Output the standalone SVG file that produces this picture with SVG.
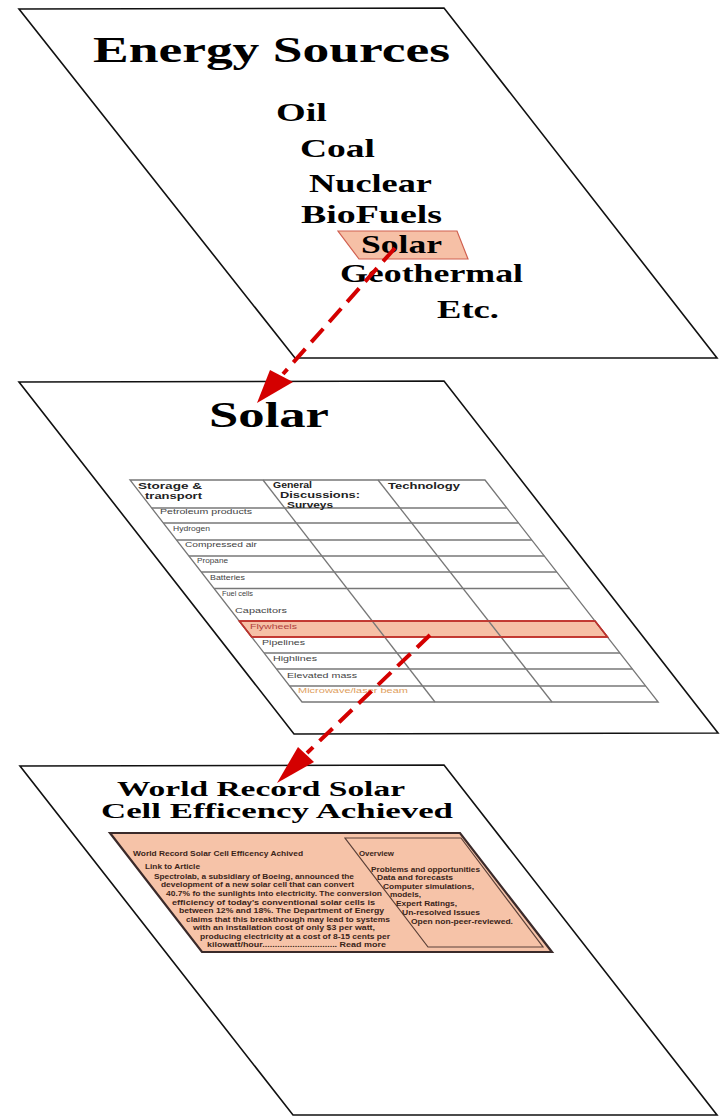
<svg xmlns="http://www.w3.org/2000/svg" width="721" height="1117" viewBox="0 0 721 1117">
<style>
.panel{fill:#fff;stroke:#111;stroke-width:1.6}
.ser{font-family:"Liberation Serif","Times New Roman",serif;fill:#000}
.item{font-size:25px;font-weight:bold}
.tbl{fill:none;stroke:#777;stroke-width:1.3}
.hdr{font-family:"Liberation Sans",Arial,sans-serif;font-size:8.8px;font-weight:bold;fill:#222}
.row{font-family:"Liberation Sans",Arial,sans-serif;font-size:7.5px;fill:#444}
.box{font-family:"Liberation Sans",Arial,sans-serif;font-size:7.5px;font-weight:bold;fill:#3a2418}
.dash{fill:none;stroke:#d40000;stroke-width:4;stroke-dasharray:18 9}
.head{fill:#d40000}
</style>
<g id="panel-energy">
<polygon class="panel" points="19,9 444,8 717,358 295,358"/>
<text class="ser" x="93" y="62" font-size="36" font-weight="bold" textLength="357" lengthAdjust="spacingAndGlyphs">Energy Sources</text>
<text class="ser item" x="276" y="121" textLength="51" lengthAdjust="spacingAndGlyphs">Oil</text>
<text class="ser item" x="300" y="157" textLength="75" lengthAdjust="spacingAndGlyphs">Coal</text>
<text class="ser item" x="309" y="192" textLength="123" lengthAdjust="spacingAndGlyphs">Nuclear</text>
<text class="ser item" x="301" y="223" textLength="141" lengthAdjust="spacingAndGlyphs">BioFuels</text>
<polygon points="338,231 457,231 468,259 359,259" fill="#f6c0a6" stroke="#d06050" stroke-width="1.2"/>
<text class="ser item" x="361" y="253" textLength="81" lengthAdjust="spacingAndGlyphs">Solar</text>
<text class="ser item" x="340" y="282" textLength="183" lengthAdjust="spacingAndGlyphs">Geothermal</text>
<text class="ser item" x="437" y="318" textLength="62" lengthAdjust="spacingAndGlyphs">Etc.</text>
</g>
<g id="panel-solar">
<polygon class="panel" points="19,382 444,381 718,733 294,734"/>
<text class="ser" x="209" y="427" font-size="35" font-weight="bold" textLength="120" lengthAdjust="spacingAndGlyphs">Solar</text>
<polygon points="239.3,621 595,621 607.5,637 251.7,637" fill="#f6c0a6" stroke="#c0302a" stroke-width="1.5"/>
<g class="tbl">
<polygon points="130,480 485,480 658.2,702 302,702"/>
<line x1="263" y1="480" x2="435" y2="702"/>
<line x1="378" y1="480" x2="552" y2="702"/>
<line x1="151.7" y1="508" x2="506.8" y2="508"/>
<line x1="163.3" y1="523" x2="518.5" y2="523"/>
<line x1="176.5" y1="540" x2="531.8" y2="540"/>
<line x1="188.9" y1="556" x2="544.3" y2="556"/>
<line x1="201.3" y1="572" x2="556.8" y2="572"/>
<line x1="214.1" y1="588.5" x2="569.6" y2="588.5"/>
<line x1="264.1" y1="653" x2="620" y2="653"/>
<line x1="276.5" y1="669" x2="632.4" y2="669"/>
<line x1="289.7" y1="686" x2="645.7" y2="686"/>
</g>
<polygon points="239.3,621 595,621 607.5,637 251.7,637" fill="none" stroke="#c0302a" stroke-width="1.5"/>
<text class="hdr" x="138" y="489" textLength="64" lengthAdjust="spacingAndGlyphs">Storage &amp;</text>
<text class="hdr" x="145" y="499" textLength="57" lengthAdjust="spacingAndGlyphs">transport</text>
<text class="hdr" x="273" y="487.5" textLength="39" lengthAdjust="spacingAndGlyphs">General</text>
<text class="hdr" x="280" y="497.5" textLength="80" lengthAdjust="spacingAndGlyphs">Discussions:</text>
<text class="hdr" x="287" y="507.5" textLength="46" lengthAdjust="spacingAndGlyphs">Surveys</text>
<text class="hdr" x="388" y="489" textLength="72" lengthAdjust="spacingAndGlyphs">Technology</text>
<text class="row" x="160" y="514" textLength="92" lengthAdjust="spacingAndGlyphs">Petroleum products</text>
<text class="row" x="173" y="531" textLength="37" lengthAdjust="spacingAndGlyphs">Hydrogen</text>
<text class="row" x="185" y="547" textLength="72" lengthAdjust="spacingAndGlyphs">Compressed air</text>
<text class="row" x="197" y="563" textLength="31" lengthAdjust="spacingAndGlyphs">Propane</text>
<text class="row" x="210" y="580" textLength="35" lengthAdjust="spacingAndGlyphs">Batteries</text>
<text class="row" x="222" y="596" textLength="31" lengthAdjust="spacingAndGlyphs">Fuel cells</text>
<text class="row" x="235" y="613" textLength="52" lengthAdjust="spacingAndGlyphs">Capacitors</text>
<text class="row" x="250" y="629" textLength="47" lengthAdjust="spacingAndGlyphs" style="fill:#b04040">Flywheels</text>
<text class="row" x="262" y="645" textLength="43" lengthAdjust="spacingAndGlyphs">Pipelines</text>
<text class="row" x="273" y="661" textLength="44" lengthAdjust="spacingAndGlyphs">Highlines</text>
<text class="row" x="287" y="678" textLength="70" lengthAdjust="spacingAndGlyphs">Elevated mass</text>
<text class="row" x="298" y="693" textLength="110" lengthAdjust="spacingAndGlyphs" style="fill:#e0a060">Microwave/laser beam</text>
</g>
<g id="panel-article">
<polygon class="panel" points="20,766 444,765 717,1115 293,1115"/>
<text class="ser" x="117" y="796" font-size="20" font-weight="bold" textLength="288" lengthAdjust="spacingAndGlyphs">World Record Solar</text>
<text class="ser" x="101" y="818" font-size="20" font-weight="bold" textLength="352" lengthAdjust="spacingAndGlyphs">Cell Efficency Achieved</text>
<polygon points="110,833 460,833 552,952 202,952" fill="#f6c3a8" stroke="#3a2a2a" stroke-width="2.2"/>
<polygon points="345,838 461,838 543,947 428,947" fill="none" stroke="#5a4038" stroke-width="1.2"/>
<text class="box" x="133" y="856" textLength="170" lengthAdjust="spacingAndGlyphs">World Record Solar Cell Efficency Achived</text>
<text class="box" x="145" y="869" textLength="55" lengthAdjust="spacingAndGlyphs">Link to Article</text>
<text class="box" x="154" y="879" textLength="200" lengthAdjust="spacingAndGlyphs">Spectrolab, a subsidiary of Boeing, announced the</text>
<text class="box" x="161" y="887" textLength="193" lengthAdjust="spacingAndGlyphs">development of a new solar cell that can convert</text>
<text class="box" x="166" y="896" textLength="216" lengthAdjust="spacingAndGlyphs">40.7% fo the sunlights into electricity. The conversion</text>
<text class="box" x="172" y="905" textLength="203" lengthAdjust="spacingAndGlyphs">efficiency of today's conventional solar cells is</text>
<text class="box" x="179" y="913" textLength="205" lengthAdjust="spacingAndGlyphs">between 12% and 18%. The Department of Energy</text>
<text class="box" x="186" y="922" textLength="204" lengthAdjust="spacingAndGlyphs">claims that this breakthrough may lead to systems</text>
<text class="box" x="193" y="930" textLength="182" lengthAdjust="spacingAndGlyphs">with an installation cost of only $3 per watt,</text>
<text class="box" x="200" y="939" textLength="190" lengthAdjust="spacingAndGlyphs">producing electricity at a cost of 8-15 cents per</text>
<text class="box" x="207" y="947" textLength="179" lengthAdjust="spacingAndGlyphs">kilowatt/hour.............................. Read more</text>
<text class="box" x="359" y="856" textLength="35" lengthAdjust="spacingAndGlyphs">Overview</text>
<text class="box" x="371" y="872" textLength="109" lengthAdjust="spacingAndGlyphs">Problems and opportunities</text>
<text class="box" x="377" y="880" textLength="76" lengthAdjust="spacingAndGlyphs">Data and forecasts</text>
<text class="box" x="383" y="889" textLength="91" lengthAdjust="spacingAndGlyphs">Computer simulations,</text>
<text class="box" x="390" y="897" textLength="31" lengthAdjust="spacingAndGlyphs">models,</text>
<text class="box" x="396" y="906" textLength="61" lengthAdjust="spacingAndGlyphs">Expert Ratings,</text>
<text class="box" x="402" y="915" textLength="78" lengthAdjust="spacingAndGlyphs">Un-resolved Issues</text>
<text class="box" x="411" y="924" textLength="102" lengthAdjust="spacingAndGlyphs">Open non-peer-reviewed.</text>
</g>
<g id="connectors">
<line class="dash" x1="395" y1="248" x2="283" y2="374"/>
<polygon class="head" points="257,403 270,370 293,382"/>
<line class="dash" x1="430" y1="635" x2="307" y2="753"/>
<polygon class="head" points="277,783 298,747 314,762"/>
</g>
</svg>
